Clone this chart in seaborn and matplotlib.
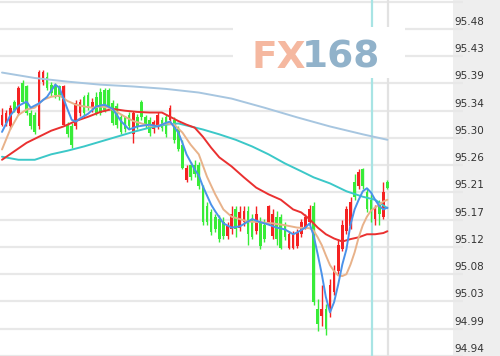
import matplotlib
matplotlib.use("Agg")
import matplotlib.pyplot as plt
import seaborn as sns
import numpy as np
from matplotlib.patches import Rectangle
from matplotlib.transforms import ScaledTranslation

# ---------------- data ----------------
opens = [95.322, 95.325, 95.319, 95.360, 95.342, 95.391, 95.385, 95.342, 95.338, 95.319,
         95.393, 95.401, 95.388, 95.388, 95.385, 95.322, 95.322, 95.319, 95.319, 95.342,
         95.368, 95.371, 95.350, 95.368, 95.376, 95.380, 95.380, 95.358, 95.352, 95.335,
         95.334, 95.338, 95.306, 95.335, 95.360, 95.334, 95.330, 95.314, 95.319, 95.330,
         95.335, 95.330, 95.330, 95.314, 95.289, 95.231, 95.256, 95.256, 95.256, 95.220,
         95.187, 95.177, 95.170, 95.166, 95.162, 95.138, 95.149, 95.182, 95.152, 95.162,
         95.179, 95.166, 95.146, 95.161, 95.157, 95.162, 95.138, 95.170, 95.169, 95.157,
         95.119, 95.119, 95.121, 95.141, 95.152, 95.161, 95.187, 95.017, 95.006, 95.017,
         95.017, 95.045, 95.080, 95.116, 95.146, 95.154, 95.228, 95.220, 95.248, 95.210,
         95.198, 95.166, 95.190, 95.169, 95.228]
closes = [95.338, 95.342, 95.350, 95.347, 95.383, 95.360, 95.342, 95.319, 95.310, 95.409,
          95.409, 95.383, 95.375, 95.371, 95.368, 95.385, 95.306, 95.289, 95.358, 95.360,
          95.342, 95.350, 95.360, 95.342, 95.342, 95.347, 95.352, 95.325, 95.322, 95.310,
          95.314, 95.319, 95.342, 95.319, 95.335, 95.322, 95.309, 95.327, 95.338, 95.317,
          95.306, 95.350, 95.297, 95.281, 95.251, 95.251, 95.236, 95.240, 95.220, 95.161,
          95.161, 95.144, 95.149, 95.133, 95.138, 95.154, 95.174, 95.149, 95.177, 95.179,
          95.141, 95.136, 95.174, 95.121, 95.133, 95.187, 95.174, 95.133, 95.119, 95.136,
          95.141, 95.141, 95.144, 95.161, 95.170, 95.182, 95.029, 94.993, 95.017, 94.984,
          95.058, 95.083, 95.124, 95.157, 95.182, 95.194, 95.203, 95.243, 95.220, 95.182,
          95.177, 95.182, 95.174, 95.210, 95.218]
highs = [95.350, 95.347, 95.355, 95.363, 95.386, 95.396, 95.388, 95.347, 95.343, 95.413,
         95.413, 95.409, 95.393, 95.391, 95.388, 95.388, 95.327, 95.324, 95.363, 95.365,
         95.371, 95.376, 95.366, 95.376, 95.383, 95.383, 95.383, 95.363, 95.357, 95.340,
         95.337, 95.343, 95.345, 95.340, 95.363, 95.338, 95.335, 95.330, 95.343, 95.335,
         95.340, 95.355, 95.335, 95.319, 95.297, 95.256, 95.261, 95.264, 95.261, 95.223,
         95.194, 95.182, 95.175, 95.172, 95.169, 95.162, 95.187, 95.187, 95.187, 95.187,
         95.187, 95.174, 95.187, 95.169, 95.166, 95.190, 95.182, 95.179, 95.174, 95.162,
         95.146, 95.146, 95.149, 95.166, 95.175, 95.190, 95.194, 95.034, 95.058, 95.026,
         95.067, 95.091, 95.133, 95.164, 95.187, 95.202, 95.240, 95.248, 95.251, 95.218,
         95.207, 95.190, 95.198, 95.228, 95.231]
lows = [95.319, 95.320, 95.314, 95.343, 95.338, 95.357, 95.338, 95.314, 95.307, 95.315,
        95.388, 95.380, 95.370, 95.366, 95.363, 95.319, 95.302, 95.284, 95.314, 95.337,
        95.337, 95.347, 95.343, 95.338, 95.338, 95.343, 95.347, 95.322, 95.317, 95.307,
        95.310, 95.315, 95.292, 95.314, 95.330, 95.317, 95.304, 95.309, 95.314, 95.312,
        95.302, 95.325, 95.292, 95.278, 95.248, 95.228, 95.231, 95.235, 95.215, 95.157,
        95.156, 95.139, 95.144, 95.128, 95.133, 95.133, 95.141, 95.136, 95.146, 95.154,
        95.124, 95.133, 95.141, 95.116, 95.128, 95.157, 95.133, 95.124, 95.116, 95.131,
        95.116, 95.116, 95.118, 95.136, 95.149, 95.157, 95.024, 94.981, 94.989, 94.975,
        95.004, 95.040, 95.073, 95.113, 95.141, 95.149, 95.198, 95.215, 95.215, 95.177,
        95.161, 95.157, 95.157, 95.166, 95.215]

ma_fast_idx = [0, 2, 4, 6, 7, 9, 11, 13, 14, 16, 17, 18, 19, 21, 23, 25, 27, 29, 31, 33,
               36, 38, 40, 41, 43, 44, 45, 47, 48, 49, 50, 51, 52, 53, 54, 56, 58, 60, 61, 63,
               65, 67, 69, 71, 72, 74, 75, 76, 77, 78, 79, 80, 81, 82, 83, 84, 85, 86, 87, 88,
               89, 90, 91, 92, 93, 94]
ma_fast = [95.310, 95.337, 95.353, 95.360, 95.350, 95.357, 95.368, 95.388, 95.383, 95.347,
           95.330, 95.327, 95.332, 95.340, 95.352, 95.355, 95.348, 95.328, 95.314, 95.319,
           95.322, 95.319, 95.325, 95.327, 95.309, 95.292, 95.273, 95.248, 95.238, 95.220,
           95.205, 95.190, 95.179, 95.169, 95.159, 95.152, 95.154, 95.162, 95.166, 95.161,
           95.157, 95.152, 95.149, 95.141, 95.144, 95.152, 95.159, 95.139, 95.108, 95.075,
           95.037, 95.012, 95.029, 95.058, 95.091, 95.116, 95.157, 95.182, 95.198, 95.212,
           95.217, 95.210, 95.198, 95.188, 95.182, 95.185]

ma_tan_idx = [0, 2, 4, 6, 8, 10, 12, 14, 16, 18, 20, 22, 24, 26, 28, 30, 32, 34, 36, 38,
              40, 42, 44, 46, 48, 50, 52, 54, 56, 58, 60, 63, 66, 69, 72, 75, 76, 77, 78, 79,
              80, 81, 82, 83, 84, 85, 86, 87, 88, 89, 90, 91, 92, 93, 94]
ma_tan = [95.281, 95.314, 95.338, 95.347, 95.350, 95.363, 95.368, 95.370, 95.361, 95.355,
          95.352, 95.350, 95.352, 95.350, 95.343, 95.335, 95.328, 95.324, 95.320, 95.320,
          95.324, 95.322, 95.309, 95.289, 95.273, 95.236, 95.207, 95.182, 95.170, 95.166,
          95.162, 95.161, 95.159, 95.156, 95.152, 95.151, 95.147, 95.136, 95.123, 95.106,
          95.090, 95.080, 95.073, 95.072, 95.075, 95.091, 95.111, 95.136, 95.156, 95.170,
          95.180, 95.185, 95.190, 95.195, 95.198]

ma_red_idx = [0, 3, 6, 9, 12, 15, 18, 21, 24, 27, 30, 33, 36, 39, 41, 43, 45, 47, 49, 51,
              53, 56, 59, 62, 65, 68, 71, 73, 75, 77, 79, 81, 83, 85, 87, 89, 91, 93, 94]
ma_red = [95.264, 95.278, 95.292, 95.302, 95.312, 95.319, 95.328, 95.335, 95.343, 95.348,
          95.345, 95.343, 95.342, 95.342, 95.335, 95.328, 95.322, 95.317, 95.302, 95.284,
          95.268, 95.253, 95.235, 95.218, 95.207, 95.198, 95.182, 95.177, 95.166, 95.152,
          95.141, 95.134, 95.129, 95.133, 95.136, 95.141, 95.141, 95.143, 95.146]

ma_cyan_idx = [0, 4, 8, 12, 16, 20, 24, 28, 32, 36, 40, 43, 46, 49, 53, 57, 61, 65, 69, 73,
               76, 80, 84, 88, 91, 94]
ma_cyan = [95.269, 95.264, 95.264, 95.273, 95.279, 95.286, 95.294, 95.302, 95.310, 95.317,
           95.322, 95.324, 95.319, 95.314, 95.306, 95.297, 95.286, 95.273, 95.258, 95.245,
           95.235, 95.225, 95.212, 95.203, 95.198, 95.184]

ma_slow_idx = [0, 8, 16, 24, 32, 40, 48, 56, 64, 72, 80, 88, 94]
ma_slow = [95.408, 95.399, 95.393, 95.388, 95.385, 95.381, 95.375, 95.365, 95.350, 95.334,
           95.319, 95.306, 95.297]

tick_values = [95.525, 95.48, 95.435, 95.39, 95.345, 95.30, 95.255, 95.21, 95.165, 95.12,
               95.075, 95.03, 94.985, 94.94]
tick_labels = ["", "95.48", "95.43", "95.39", "95.34", "95.30", "95.26", "95.21", "95.17",
               "95.12", "95.08", "95.03", "94.99", "94.94"]

cursor_idx = 90.2
last_idx = 94.1
watermark_a = "FX"
watermark_b = "168"

# ---------------- figure ----------------
sns.set_style("white")
plt.rcParams['font.family'] = ['DejaVu Sans']

W, H = 500, 356
fig = plt.figure(figsize=(W / 100, H / 100), dpi=100)
fig.patch.set_facecolor("white")
fig.add_artist(Rectangle((453 / W, 0), 47 / W, 1, transform=fig.transFigure,
                         facecolor="#eeeeee", edgecolor="none", zorder=-1))
ax = fig.add_axes([0, 0, 453 / W, 1])
ax.set_facecolor("white")

n = len(opens)
idx = np.arange(n)
o = np.array(opens); c = np.array(closes)
up = c >= o
RED, GREEN = "#f52222", "#38ec38"
cols = [RED if u else GREEN for u in up]

ax.axvline(cursor_idx, color="#a8e4e4", lw=1.6, zorder=1)
ax.axvline(last_idx, color="#e2e2e2", lw=1.6, zorder=1)

ax.vlines(idx, lows, highs, colors=cols, linewidth=1.0, zorder=2)
ax.bar(idx, np.abs(c - o), bottom=np.minimum(o, c), width=0.68, color=cols,
       linewidth=0, zorder=2)

lw = 1.4
sns.lineplot(x=ma_slow_idx, y=ma_slow, ax=ax, color="#a7c6e0", linewidth=lw, zorder=3)
sns.lineplot(x=ma_cyan_idx, y=ma_cyan, ax=ax, color="#3cc8c8", linewidth=lw, zorder=3)
sns.lineplot(x=ma_red_idx, y=ma_red, ax=ax, color="#ea3030", linewidth=lw, zorder=3)
sns.lineplot(x=ma_tan_idx, y=ma_tan, ax=ax, color="#e8b28a", linewidth=lw, zorder=3)
sns.lineplot(x=ma_fast_idx, y=ma_fast, ax=ax, color="#4a92ea", linewidth=lw, zorder=4)

ax.set_xlim(-0.488, 110.0)
ax.set_ylim(94.94, 95.5278)
ax.set_xticks([])
ax.set_xlabel(""); ax.set_ylabel("")
for s in ax.spines.values():
    s.set_visible(False)

ax.yaxis.tick_right()
ax.set_yticks(tick_values)
ax.set_yticklabels(tick_labels)
ax.grid(axis="y", color="#e8e8e8", linewidth=1.6)
ax.set_axisbelow(True)
ax.tick_params(axis="y", which="major", length=7, width=1.6, color="#e8e8e8",
               pad=-5.8, labelsize=7.5, labelcolor="#333333", right=True, left=False)
off = ScaledTranslation(0, 8 / 100, fig.dpi_scale_trans)
for t in ax.yaxis.get_major_ticks():
    t.label2.set_transform(t.label2.get_transform() + off)

# watermark
ax.add_patch(Rectangle((233 / W, 1 - 78 / H), 172 / W, 51 / H, transform=fig.transFigure,
                       facecolor="white", edgecolor="none", zorder=5, clip_on=False))
fig.text(306 / W, 1 - 68 / H, watermark_a, color="#f5b8a0", fontsize=27,
         fontweight="bold", ha="right", va="baseline", zorder=6)
fig.text(302 / W, 1 - 68 / H, watermark_b, color="#91b2ca", fontsize=27,
         fontweight="bold", ha="left", va="baseline", zorder=6)

fig.savefig("out.png", dpi=100, facecolor="white")
